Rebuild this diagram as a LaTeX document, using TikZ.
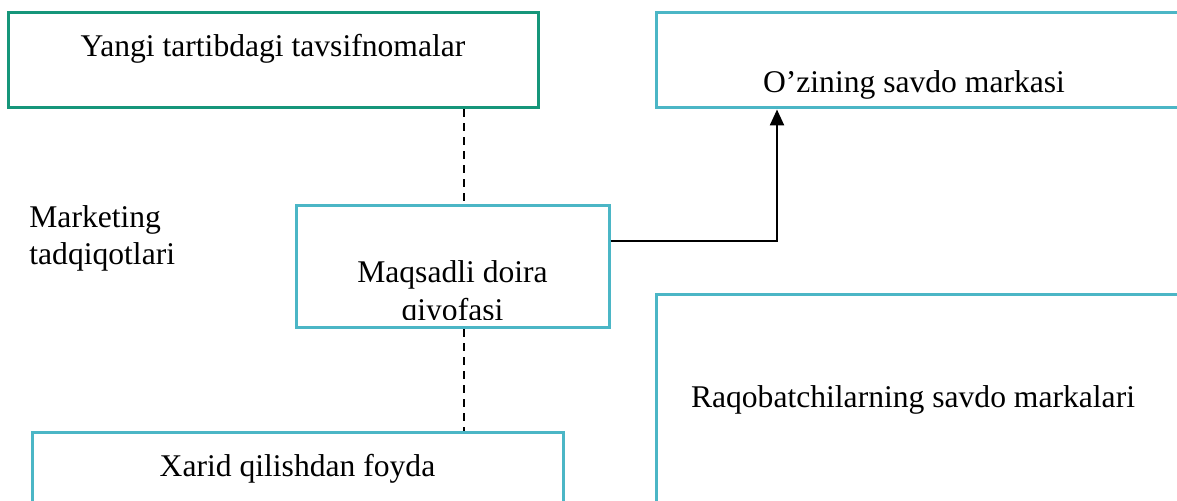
\documentclass[tikz,border=0pt]{standalone}
\usepackage{fontspec}
\setmainfont{Liberation Serif}
\usetikzlibrary{positioning, arrows.meta}

\definecolor{boxgreen}{RGB}{22,150,122}
\definecolor{boxcyan}{RGB}{75,182,198}

\begin{document}
\begin{tikzpicture}[x=0.5pt, y=-0.5pt, >={Triangle[width=7pt,length=8pt]},
    box/.style={draw=boxcyan, line width=1.5pt, rectangle, inner sep=0pt},
    lbl/.style={font=\fontsize{15.8}{19.3}\selectfont, inner sep=0pt, anchor=base, align=center}]
    \useasboundingbox (0,0) rectangle (1177,501);
    \clip (0,0) rectangle (1177,501);

    % boxes
    \node[box, draw=boxgreen, minimum width=265pt, minimum height=47.5pt] (tav) at (273,60.5) {};
    \node[box, minimum width=269.5pt, minimum height=47.5pt] (own) at (925.5,60.5) {};
    \node[box, minimum width=156.5pt, minimum height=61pt] (mid) at (452.5,267) {};
    \node[box, minimum width=265.5pt, minimum height=48.5pt] (xar) at (297.5,481.5) {};
    \node[box, minimum width=269.5pt, minimum height=117.5pt] (raq) at (925.5,412.5) {};

    % texts (base = last line)
    \node[lbl] (tavtext) at (273,57) {Yangi tartibdagi tavsifnomalar};
    \node[lbl] (owntext) at (914,93) {O’zining savdo markasi};
    \begin{scope}
        \clip (mid.north west) rectangle ([yshift=5pt]mid.south east);
        \node[lbl] (midtext) at (452.5,321) {Maqsadli doira\\qiyofasi};
    \end{scope}
    \node[lbl, font=\fontsize{15.8}{18.5}\selectfont, anchor=base west, align=left] (mrk) at (29,265) {Marketing\\tadqiqotlari};
    \node[lbl] (raqtext) at (913,408) {Raqobatchilarning savdo markalari};
    \node[lbl] (xartext) at (297.5,477) {Xarid qilishdan foyda};

    % connectors
    \coordinate (dash) at (464,0);
    \coordinate (turn) at (777,241);
    \draw[dashed, line width=1pt, dash pattern=on 4pt off 3pt] (tav.south -| dash) -- (mid.north -| dash);
    \draw[dashed, line width=1pt, dash pattern=on 4pt off 3pt] (mid.south -| dash) -- (xar.north -| dash);
    \draw[->, line width=1.2pt] (mid.east |- turn) -- (turn) -- (turn |- own.south);
\end{tikzpicture}
\end{document}
